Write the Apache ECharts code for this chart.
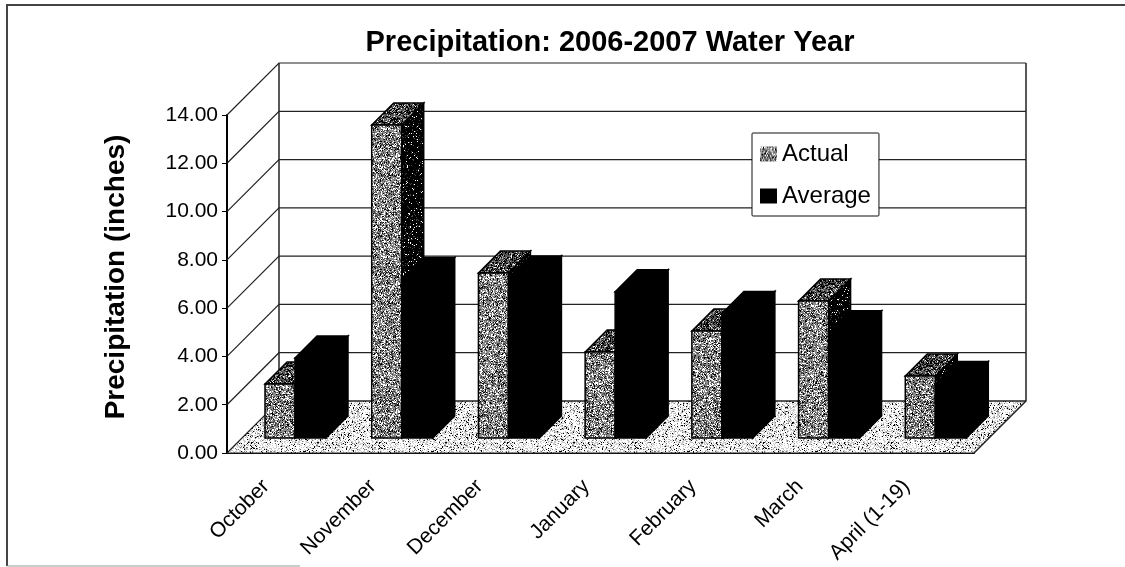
<!DOCTYPE html>
<html lang="en">
	<head>
		<meta charset="UTF-8" />
		<title>Precipitation: 2006-2007 Water Year</title>
		<script src="https://cdn.jsdelivr.net/npm/echarts@6/dist/echarts.min.js"></script>
		<style>
			* {
				margin: 0;
				padding: 0;
			}
			html,
			body {
				height: 100%;
				background: #fff;
			}
		</style>
	</head>
	<body>
		<div id="main" style="width:1125px;height:567px;"></div>

		<script type="text/javascript">
			var months = ["October", "November", "December", "January", "February", "March", "April (1-19)"];
			var actual = [2.24, 12.96, 6.83, 3.56, 4.43, 5.67, 2.57];
			var average = [3.31, 6.56, 6.63, 6.06, 5.16, 4.36, 2.26];
			var yTicks = [0, 2, 4, 6, 8, 10, 12, 14];

			var FONT = '"Liberation Sans", Arial, sans-serif';
			var WALL = 52; // depth of the floor in px
			var BAR_FRONT = 15; // bar front plane, measured from the front of the floor
			var BAR_DEPTH = 22;
			var BAR_GAP = 23; // space left of the first bar in a category

			// fixed seed so the scan-like stipple is the same on every run
			var seed = 12345;
			function rnd() {
				seed = (seed * 1103515245 + 12345) & 0x7fffffff;
				return (seed >> 8) / 0x7fffff % 1;
			}
			function stipple(mix) {
				var c = document.createElement("canvas");
				c.width = c.height = 128;
				var ctx = c.getContext("2d");
				for (var y = 0; y < 128; y++) {
					for (var x = 0; x < 128; x++) {
						var r = rnd(), sum = 0, col = mix[0][0];
						for (var i = 0; i < mix.length; i++) {
							sum += mix[i][1];
							if (r < sum) {
								col = mix[i][0];
								break;
							}
						}
						ctx.fillStyle = col;
						ctx.fillRect(x, y, 1, 1);
					}
				}
				return { image: c, repeat: "repeat" };
			}
			var grayFront = stipple([["#8a8a8a", 0.46], ["#ffffff", 0.24], ["#444444", 0.18], ["#000000", 0.12]]);
			var grayTop = stipple([["#555555", 0.42], ["#000000", 0.36], ["#aaaaaa", 0.16], ["#ffffff", 0.06]]);
			var graySide = stipple([["#000000", 0.88], ["#444444", 0.08], ["#ffffff", 0.04]]);
			var floorFill = stipple([["#ffffff", 0.58], ["#c8c8c8", 0.28], ["#000000", 0.07], ["#777777", 0.07]]);

			function poly(points, fill, stroke, lw) {
				return {
					type: "polygon",
					shape: { points: points },
					style: { fill: fill, stroke: stroke || "#000", lineWidth: lw === undefined ? 1.5 : lw }
				};
			}

			function renderBar(offset, barW, front, top, side) {
				return function(params, api) {
					var i = api.value(0);
					var bandW = api.size([1, 0])[0];
					var center = api.coord([i, 0])[0];
					var base = api.coord([i, 0])[1] - BAR_FRONT;
					var topY = api.coord([i, api.value(1)])[1] - BAR_FRONT;
					var x0 = center - bandW / 2 + BAR_FRONT + BAR_GAP + offset;
					var x1 = x0 + barW;
					var d = BAR_DEPTH;
					return {
						type: "group",
						children: [
							poly([[x1, base], [x1 + d, base - d], [x1 + d, topY - d], [x1, topY]], side),
							poly([[x0, topY], [x0 + d, topY - d], [x1 + d, topY - d], [x1, topY]], top),
							poly([[x0, base], [x1, base], [x1, topY], [x0, topY]], front)
						]
					};
				};
			}

			function renderWall(params, api) {
				var cs = params.coordSys;
				var p = api.coord([0, api.value(1)]);
				var left = cs.x;
				var right = cs.x + cs.width;
				var v = api.value(1);
				var lines = [
					{
						type: "polyline",
						shape: { points: [[left, p[1]], [left + WALL, p[1] - WALL], [right + WALL, p[1] - WALL]] },
						style: { fill: null, stroke: "#222", lineWidth: 1.2 }
					}
				];
				if (v === 0) {
					// floor goes under the bottom gridline, plus the back wall verticals
					var floorY = p[1];
					lines.unshift(
						poly([[left, floorY], [left + WALL, floorY - WALL], [right + WALL, floorY - WALL], [right, floorY]], floorFill, "#222", 1)
					);
					var topY = api.coord([0, yTicks[yTicks.length - 1]])[1] - WALL;
					lines.push({
						type: "polyline",
						shape: { points: [[left + WALL, topY], [left + WALL, floorY - WALL]] },
						style: { fill: null, stroke: "#222", lineWidth: 1.5 }
					});
					lines.push({
						type: "polyline",
						shape: { points: [[right + WALL, topY], [right + WALL, floorY - WALL], [right, floorY]] },
						style: { fill: null, stroke: "#222", lineWidth: 1.5 }
					});
				}
				return { type: "group", children: lines };
			}

			var option = {
				animation: false,
				backgroundColor: "#fff",
				title: {
					text: "Precipitation: 2006-2007 Water Year",
					left: 605,
					top: 23,
					textAlign: "center",
					textStyle: { fontFamily: FONT, fontSize: 29, fontWeight: "bold", color: "#000" }
				},
				legend: {
					orient: "vertical",
					left: 752,
					top: 133,
					padding: [9, 8, 8, 8],
					itemGap: 18,
					itemWidth: 17,
					itemHeight: 15,
					icon: "rect",
					backgroundColor: "#fff",
					borderColor: "#111",
					borderWidth: 1,
					borderRadius: 1,
					z: 20,
					textStyle: { fontFamily: FONT, fontSize: 24, color: "#000" },
					data: [
						{ name: "Actual", itemStyle: { color: grayFront, borderWidth: 0 } },
						{ name: "Average", itemStyle: { color: "#000", borderWidth: 0 } }
					]
				},
				grid: { left: 227, top: 115, width: 747, height: 338 },
				xAxis: {
					type: "category",
					data: months,
					axisLine: { lineStyle: { color: "#000", width: 2 } },
					axisTick: { length: 6, lineStyle: { color: "#000" } },
					axisLabel: {
						rotate: 45,
						interval: 0,
						margin: 16,
						padding: [0, 20, 0, 0],
						fontFamily: FONT,
						fontSize: 21,
						color: "#000"
					}
				},
				yAxis: {
					type: "value",
					min: 0,
					max: 14,
					interval: 2,
					name: "Precipitation (inches)",
					nameLocation: "middle",
					nameGap: 97,
					nameRotate: 90,
					nameTextStyle: { fontFamily: FONT, fontSize: 28, fontWeight: "bold", color: "#000", padding: [0, 0, 0, 14] },
					splitLine: { show: false },
					axisLine: { show: true, lineStyle: { color: "#000", width: 2 } },
					axisTick: { show: true, length: 5, lineStyle: { color: "#000" } },
					axisLabel: {
						margin: 9,
						fontFamily: FONT,
						fontSize: 21,
						color: "#000",
						formatter: function(v) {
							return v.toFixed(2);
						}
					}
				},
				series: [
					{
						name: "walls",
						type: "custom",
						silent: true,
						clip: false,
						z: 1,
						renderItem: renderWall,
						data: yTicks.map(function(t) {
							return [0, t];
						})
					},
					{
						name: "Actual",
						type: "custom",
						clip: false,
						z: 3,
						itemStyle: { color: grayFront },
						renderItem: renderBar(0, 30, grayFront, grayTop, graySide),
						data: actual.map(function(v, i) {
							return [i, v];
						})
					},
					{
						name: "Average",
						type: "custom",
						clip: false,
						z: 4,
						itemStyle: { color: "#000" },
						renderItem: renderBar(30, 31, "#000", "#000", "#000"),
						data: average.map(function(v, i) {
							return [i, v];
						})
					}
				],
				graphic: [
					{
						type: "polyline",
						silent: true,
						shape: { points: [[7, 566], [7, 5], [1125, 5]] },
						style: { fill: null, stroke: "#444", lineWidth: 2 }
					},
					{
						type: "line",
						silent: true,
						shape: { x1: 7, y1: 566, x2: 300, y2: 566 },
						style: { stroke: "#999", lineWidth: 1 }
					}
				]
			};

			var myChart = echarts.init(document.getElementById("main"));
			myChart.setOption(option);
		</script>
	</body>
</html>
